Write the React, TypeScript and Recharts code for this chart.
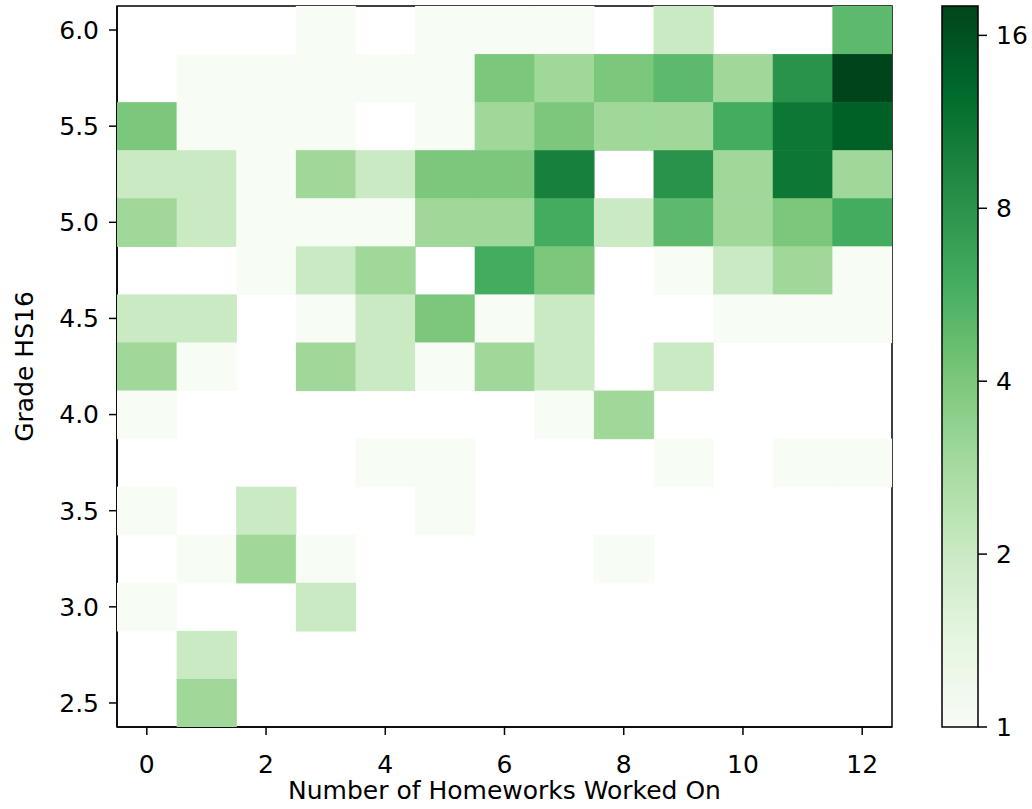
import { ScatterChart, Scatter, XAxis, YAxis, ComposedChart, ReferenceArea } from "recharts";

// homeworks worked on (columns) and grade bins (row centres, top to bottom)
const homeworks = [0, 1, 2, 3, 4, 5, 6, 7, 8, 9, 10, 11, 12];
const grades = [6.0, 5.75, 5.5, 5.25, 5.0, 4.75, 4.5, 4.25, 4.0, 3.75, 3.5, 3.25, 3.0, 2.75, 2.5];

// number of students per cell, one row per grade bin (same order as grades)
const counts = [
  [0, 0, 0, 1, 0, 1, 1, 1, 0, 2, 0, 0, 5],
  [0, 1, 1, 1, 1, 1, 4, 3, 4, 5, 3, 8, 18],
  [4, 1, 1, 1, 0, 1, 3, 4, 3, 3, 6, 11, 14],
  [2, 2, 1, 3, 2, 4, 4, 10, 0, 8, 3, 11, 3],
  [3, 2, 1, 1, 1, 3, 3, 6, 2, 5, 3, 4, 6],
  [0, 0, 1, 2, 3, 0, 6, 4, 0, 1, 2, 3, 1],
  [2, 2, 0, 1, 2, 4, 1, 2, 0, 0, 1, 1, 1],
  [3, 1, 0, 3, 2, 1, 3, 2, 0, 2, 0, 0, 0],
  [1, 0, 0, 0, 0, 0, 0, 1, 3, 0, 0, 0, 0],
  [0, 0, 0, 0, 1, 1, 0, 0, 0, 1, 0, 1, 1],
  [1, 0, 2, 0, 0, 1, 0, 0, 0, 0, 0, 0, 0],
  [0, 1, 3, 1, 0, 0, 0, 0, 1, 0, 0, 0, 0],
  [1, 0, 0, 2, 0, 0, 0, 0, 0, 0, 0, 0, 0],
  [0, 2, 0, 0, 0, 0, 0, 0, 0, 0, 0, 0, 0],
  [0, 3, 0, 0, 0, 0, 0, 0, 0, 0, 0, 0, 0],
];

const xTicks = [0, 2, 4, 6, 8, 10, 12];
const yTicks = [2.5, 3.0, 3.5, 4.0, 4.5, 5.0, 5.5, 6.0];
const colorTicks = [1, 2, 4, 8, 16];
const COLOR_MIN = 1;
const COLOR_MAX = 18;
const X_DOMAIN = [-0.5, 12.5];
const Y_DOMAIN = [2.375, 6.125];

const GREENS = ["#f7fcf5", "#e5f5e0", "#c7e9c0", "#a1d99b", "#74c476", "#41ab5d", "#238b45", "#006d2c", "#00441b"];

const hex = (s: string) => [1, 3, 5].map((i) => parseInt(s.slice(i, i + 2), 16));

function greens(t: number) {
  const c = Math.max(0, Math.min(1, t)) * (GREENS.length - 1);
  const i = Math.min(Math.floor(c), GREENS.length - 2);
  const f = c - i;
  const a = hex(GREENS[i]);
  const b = hex(GREENS[i + 1]);
  const rgb = a.map((v, k) => Math.round(v + (b[k] - v) * f));
  return `rgb(${rgb.join(",")})`;
}

const logNorm = (v: number) => Math.log(v / COLOR_MIN) / Math.log(COLOR_MAX / COLOR_MIN);

const cells = grades.flatMap((g, r) =>
  homeworks
    .map((h, c) => ({ x: h, y: g, count: counts[r][c] }))
    .filter((d) => d.count > 0)
);

const FONT = "DejaVu Sans, sans-serif";
const PLOT_LEFT = 117;
const PLOT_RIGHT = 892;
const PLOT_TOP = 6;
const PLOT_BOTTOM = 727;
const CELL_W = (PLOT_RIGHT - PLOT_LEFT) / homeworks.length;
const CELL_H = (PLOT_BOTTOM - PLOT_TOP) / grades.length;

const HeatCell = (props: any) => {
  const { cx, cy, payload } = props;
  if (cx == null || cy == null) return <g />;
  return (
    <rect
      x={cx - CELL_W / 2}
      y={cy - CELL_H / 2}
      width={CELL_W + 0.6}
      height={CELL_H + 0.6}
      fill={greens(logNorm(payload.count))}
    />
  );
};

const tickStyle = { fill: "#000", fontSize: 25, fontFamily: FONT };

export default function App() {
  return (
    <div style={{ position: "absolute", left: 0, top: 0, width: 1032, height: 809, background: "#fff" }}>
      <svg width={0} height={0} style={{ position: "absolute" }}>
        <defs>
          <linearGradient id="greensBar" x1="0" y1="1" x2="0" y2="0">
            {GREENS.map((c, i) => (
              <stop key={c} offset={i / (GREENS.length - 1)} stopColor={c} />
            ))}
          </linearGradient>
        </defs>
      </svg>

      <div style={{ position: "absolute", left: 0, top: 0 }}>
        <ScatterChart width={1032} height={809} margin={{ top: PLOT_TOP, right: 1032 - PLOT_RIGHT, bottom: 0, left: 0 }}>
          <XAxis
            type="number"
            dataKey="x"
            domain={X_DOMAIN}
            ticks={xTicks}
            allowDataOverflow
            height={809 - PLOT_BOTTOM}
            tick={tickStyle}
            tickSize={8}
            tickMargin={20}
            stroke="#000"
            strokeWidth={1.5}
            label={{ value: "Number of Homeworks Worked On", position: "insideBottom", offset: 10, style: tickStyle }}
          />
          <YAxis
            type="number"
            dataKey="y"
            domain={Y_DOMAIN}
            ticks={yTicks}
            allowDataOverflow
            width={PLOT_LEFT}
            tick={tickStyle}
            tickSize={8}
            tickMargin={10}
            tickFormatter={(v: number) => v.toFixed(1)}
            stroke="#000"
            strokeWidth={1.5}
            label={{ value: "Grade HS16", angle: -90, position: "insideLeft", offset: 24, style: { ...tickStyle, textAnchor: "middle" } }}
          />
          <Scatter data={cells} shape={HeatCell} isAnimationActive={false} />
          <ReferenceArea x1={X_DOMAIN[0]} x2={X_DOMAIN[1]} y1={Y_DOMAIN[0]} y2={Y_DOMAIN[1]} fill="none" stroke="#000" strokeWidth={1.5} />
        </ScatterChart>
      </div>

      <div style={{ position: "absolute", left: 900, top: 0 }}>
        <ComposedChart width={132} height={809} data={colorTicks.map((v) => ({ x: 0.5, v }))} margin={{ top: PLOT_TOP, right: 0, bottom: 809 - PLOT_BOTTOM, left: 42 }}>
          <XAxis type="number" dataKey="x" domain={[0, 1]} hide />
          <YAxis
            orientation="right"
            type="number"
            dataKey="v"
            scale="log"
            domain={[COLOR_MIN, COLOR_MAX]}
            ticks={colorTicks}
            allowDataOverflow
            width={54}
            tick={tickStyle}
            tickSize={9}
            tickMargin={9}
            axisLine={false}
            stroke="#000"
            strokeWidth={1.5}
          />
          <ReferenceArea x1={0} x2={1} y1={COLOR_MIN} y2={COLOR_MAX} fill="url(#greensBar)" fillOpacity={1} stroke="#000" strokeWidth={1.5} />
        </ComposedChart>
      </div>
    </div>
  );
}
